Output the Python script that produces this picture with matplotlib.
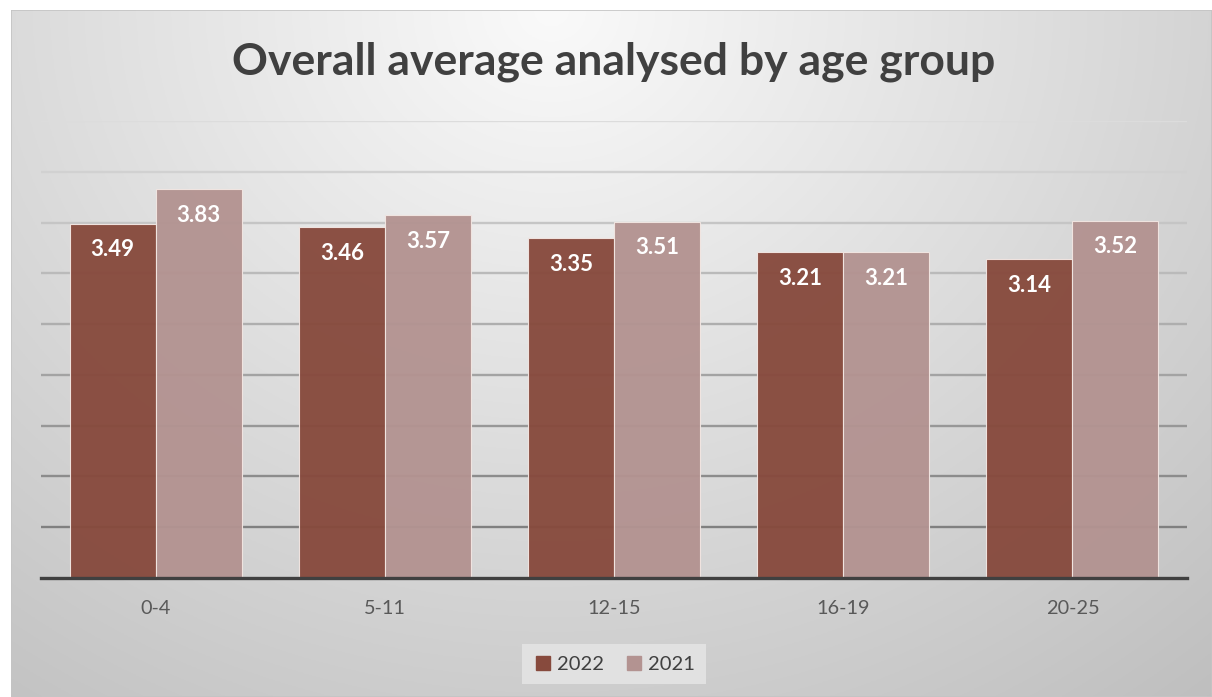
import numpy as np
import matplotlib
matplotlib.use("Agg")
import matplotlib.pyplot as plt
from matplotlib.patches import Rectangle
from matplotlib.lines import Line2D

categories = ["0-4", "5-11", "12-15", "16-19", "20-25"]
series_names = ["2022", "2021"]
values_2022 = [3.49, 3.46, 3.35, 3.21, 3.14]
values_2021 = [3.83, 3.57, 3.51, 3.21, 3.52]
title = "Overall average analysed by age group"

W, H = 1212, 697
fig = plt.figure(figsize=(W / 100, H / 100), dpi=100)
fig.patch.set_facecolor("white")

# background panel with radial gradient
bg = fig.add_axes([11 / W, 0, 1 - 11 / W, (H - 10) / H])
bg.set_axis_off()
ny, nx = 300, 500
yy, xx = np.mgrid[0:1:ny * 1j, 0:1:nx * 1j]
r = np.sqrt(((xx - 0.45) / 0.75) ** 2 + ((yy - 0.0) / 1.15) ** 2)
img = np.clip(250 - 52 * r, 185, 252) / 255.0
bg.imshow(np.dstack([img, img, img]), extent=[0, 1, 0, 1], aspect="auto",
          origin="upper", zorder=0)
bg.set_xlim(0, 1)
bg.set_ylim(0, 1)
bg.add_patch(Rectangle((0, 0), 1, 1, transform=bg.transAxes, fill=False,
                       edgecolor="#c4c4c4", lw=1.2, zorder=1))

fam = ["Lato", "DejaVu Sans"]

ax = fig.add_axes([41 / W, (H - 578) / H, 1146 / W, (578 - 121) / H])
ax.patch.set_alpha(0)
x = np.arange(len(categories))
bw = 0.375
c22 = "#874A3D"
c21 = "#B39391"
b1 = ax.bar(x - bw / 2, values_2022, bw, color=c22, edgecolor="#f2e6e2",
            lw=0.8, zorder=2, alpha=0.96, label=series_names[0])
b2 = ax.bar(x + bw / 2, values_2021, bw, color=c21, edgecolor="#f2e6e2",
            lw=0.8, zorder=2, alpha=0.96, label=series_names[1])

ax.set_xlim(-0.5, len(categories) - 0.5)
ax.set_ylim(0, 4.5)
grid_levels = np.arange(0.5, 4.51, 0.5)
cmap = matplotlib.colors.LinearSegmentedColormap.from_list("g", ["#808080", "#dcdcdc"])
for i, gl in enumerate(grid_levels):
    ax.axhline(gl, color=cmap(i / (len(grid_levels) - 1)), lw=1.7, zorder=1)
ax.axhline(0, color="#404040", lw=2.4, zorder=3, clip_on=False)

for bars, vals in ((b1, values_2022), (b2, values_2021)):
    for rect, v in zip(bars, vals):
        ax.annotate(f"{v:.2f}", (rect.get_x() + rect.get_width() / 2, v),
                    xytext=(0, -19), textcoords="offset points",
                    ha="center", va="center", color="white",
                    fontsize=16, fontweight="bold", family=fam, zorder=4)

for s in ax.spines.values():
    s.set_visible(False)
ax.set_yticks([])
ax.set_xticks(x)
ax.set_xticklabels(categories, fontsize=14.3, color="#595959", family=fam)
ax.tick_params(axis="x", length=0, pad=16)

fig.text(614 / W, 1 - 62 / H, title, ha="center", va="center",
         fontsize=32, fontweight="bold", color="#404040", family=fam)

handles = [Line2D([], [], marker="s", ls="", color=c22, markersize=10),
           Line2D([], [], marker="s", ls="", color=c21, markersize=10)]
leg = fig.legend(handles, series_names, loc="center", bbox_to_anchor=(614 / W, 1 - 664 / H),
                 ncol=2, frameon=True, fancybox=False, handletextpad=0.2,
                 columnspacing=1.0, handlelength=1.0,
                 prop={"family": fam, "size": 14.5}, borderpad=0.55)
leg.get_frame().set_facecolor("#e4e4e4")
leg.get_frame().set_edgecolor("none")
leg.get_frame().set_alpha(0.9)
for t in leg.get_texts():
    t.set_color("#404040")

fig.savefig("out.png", dpi=100)
